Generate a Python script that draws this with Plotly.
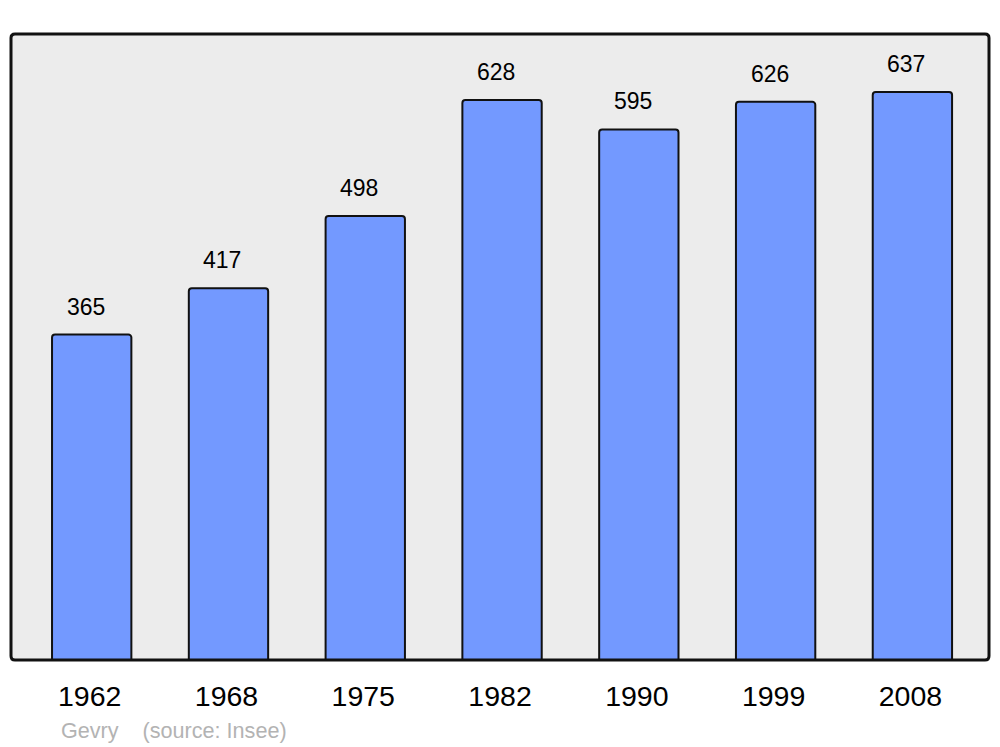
import plotly.graph_objects as go

years = ["1962", "1968", "1975", "1982", "1990", "1999", "2008"]
population = [365, 417, 498, 628, 595, 626, 637]
commune = "Gevry"
source = "(source: Insee)"

FONT = "Liberation Sans, Arial, sans-serif"

fig = go.Figure()
fig.add_trace(go.Bar(
    x=list(range(len(years))), y=population, width=0.58,
    marker=dict(color="#7399FF", line=dict(color="#111111", width=2), cornerradius=3),
    customdata=years, hovertemplate="%{customdata}: %{y}<extra></extra>",
))

for i, v in enumerate(population):
    fig.add_annotation(x=i, y=v, text=str(v), showarrow=False,
                       xshift=-6, yshift=28, yanchor="middle",
                       font=dict(family=FONT, size=23, color="#000000"))

fig.add_annotation(xref="paper", yref="paper", x=0.049, y=-0.112, xanchor="left", yanchor="middle",
                   text=commune + "&nbsp;&nbsp;&nbsp;&nbsp;" + source, showarrow=False,
                   font=dict(family=FONT, size=21.6, color="#B3B3B3"))

# rounded border
rx, ry = 4 / 978, 4 / 626
path = (f"M {rx},0 L {1-rx},0 Q 1,0 1,{ry} L 1,{1-ry} Q 1,1 {1-rx},1 "
        f"L {rx},1 Q 0,1 0,{1-ry} L 0,{ry} Q 0,0 {rx},0 Z")
fig.add_shape(type="path", xref="paper", yref="paper", path=path,
              line=dict(color="#111111", width=3), layer="above")

fig.update_layout(
    width=1000, height=747,
    margin=dict(l=11, r=11, t=34, b=87),
    paper_bgcolor="#FFFFFF", plot_bgcolor="#ECECEC",
    showlegend=False,
    font=dict(family=FONT),
)
fig.update_xaxes(range=[-0.59, 6.56], showgrid=False, zeroline=False,
                 showline=False, ticks="", tickmode="array",
                 tickvals=list(range(len(years))), ticktext=years,
                 tickfont=dict(family=FONT, size=28.5, color="#000000"),
                 ticklabelstandoff=16, ticklabelshift=-2)
fig.update_yaxes(range=[0, 702], showgrid=False, zeroline=False, showticklabels=False, showline=False)

fig.write_html("out.html", config={"displayModeBar": False},
               post_script="document.body.style.margin='0';document.body.style.overflow='hidden';")
